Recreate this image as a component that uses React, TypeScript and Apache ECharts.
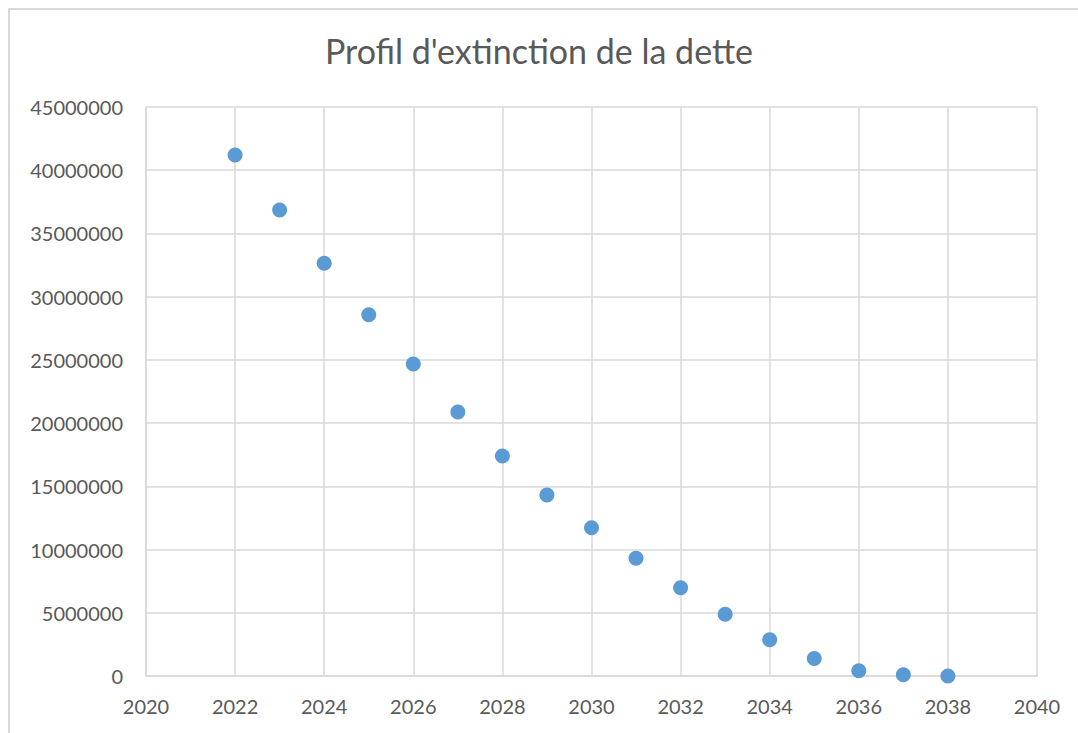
import React, { useEffect, useRef } from "react";
import * as echarts from "echarts";

const years: number[] = [2022, 2023, 2024, 2025, 2026, 2027, 2028, 2029, 2030, 2031, 2032, 2033, 2034, 2035, 2036, 2037, 2038];
const debt: number[] = [
  41200000, 36850000, 32650000, 28570000, 24680000, 20870000, 17400000, 14320000,
  11730000, 9310000, 6970000, 4890000, 2870000, 1390000, 420000, 100000, 0,
];
const titleText = "Profil d'extinction de la dette";

export default function App() {
  const ref = useRef<HTMLDivElement>(null);
  useEffect(() => {
    if (!ref.current) return;
    const chart = echarts.init(ref.current, undefined, { renderer: "svg" });
    const font = "Lato, 'Open Sans', sans-serif";
    chart.setOption({
      animation: false,
      backgroundColor: "#ffffff",
      title: {
        text: titleText,
        left: 'center',
        top: 28,
        textStyle: { fontFamily: font, fontSize: 34, fontWeight: "normal", color: "#595959" },
      },
      graphic: [
        {
          type: "rect",
          shape: { x: 9, y: 9, width: 1200, height: 1000 },
          style: { fill: "none", stroke: "#d9d9d9", lineWidth: 2 },
          silent: true,
        },
      ],
      grid: { left: 146, right: 41, top: 107, bottom: 57 },
      xAxis: {
        type: "value",
        min: 2020,
        max: 2040,
        interval: 2,
        axisLine: { show: true, lineStyle: { color: "#d9d9d9", width: 1.5 } },
        axisTick: { show: false },
        splitLine: { show: true, lineStyle: { color: "#d9d9d9", width: 1.5 } },
        axisLabel: { fontFamily: font, fontSize: 20, color: "#595959", margin: 20, formatter: (v: number) => String(v) },
      },
      yAxis: {
        type: "value",
        min: 0,
        max: 45000000,
        interval: 5000000,
        axisLine: { show: true, lineStyle: { color: "#d9d9d9", width: 1.5 } },
        axisTick: { show: false },
        splitLine: { show: true, lineStyle: { color: "#d9d9d9", width: 1.5 } },
        axisLabel: { fontFamily: font, fontSize: 20, color: "#595959", margin: 23, formatter: (v: number) => String(v) },
      },
      series: [
        {
          type: "scatter",
          data: years.map((y, i) => [y, debt[i]]),
          symbol: "circle",
          symbolSize: 15,
          itemStyle: { color: "#5b9bd5", opacity: 1 },
        },
      ],
    });
    return () => chart.dispose();
  }, []);
  return (
    <div
      ref={ref}
      style={{ position: "absolute", left: 0, top: 0, width: 1078, height: 733 }}
    />
  );
}
